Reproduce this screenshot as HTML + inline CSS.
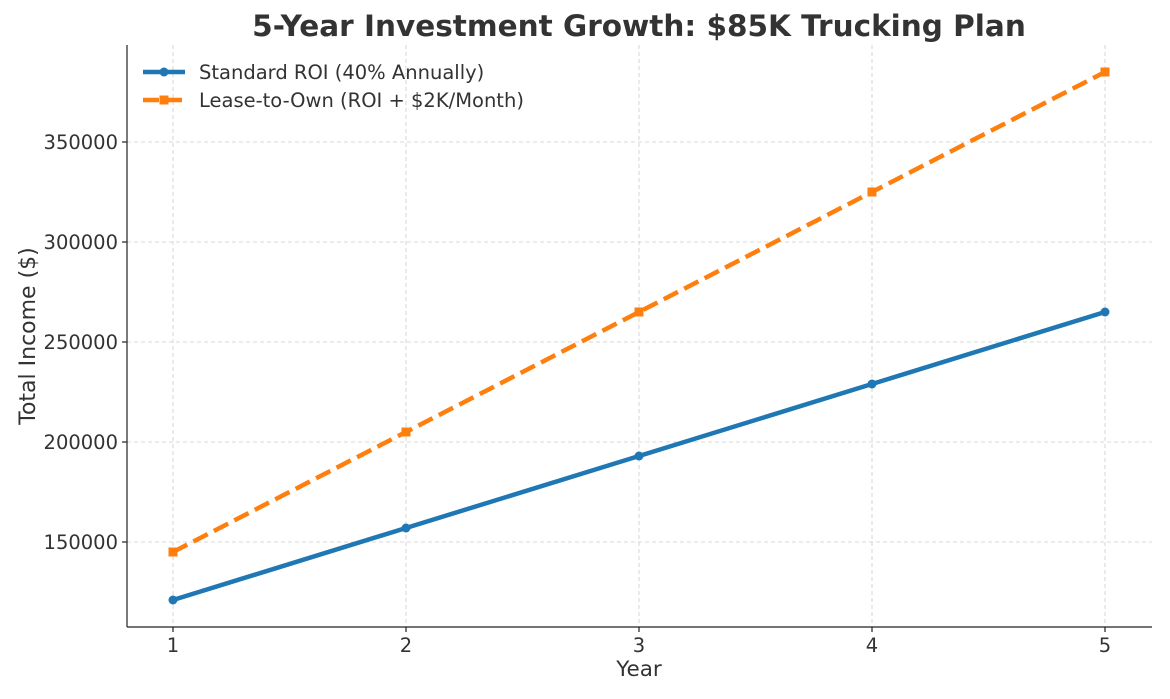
<!DOCTYPE html>
<html><head><meta charset="utf-8"><style>body{margin:0;background:#fff}</style></head><body>
<svg width="1170" height="694" xmlns="http://www.w3.org/2000/svg" font-family="'DejaVu Sans','Liberation Sans',sans-serif">
<rect width="1170" height="694" fill="#fff"/>
<g stroke="#cccccc" stroke-width="0.8" stroke-dasharray="4,3">
<line x1="173" y1="45" x2="173" y2="627"/><line x1="406" y1="45" x2="406" y2="627"/><line x1="639" y1="45" x2="639" y2="627"/><line x1="872" y1="45" x2="872" y2="627"/><line x1="1105" y1="45" x2="1105" y2="627"/>
<line x1="127" y1="142" x2="1152" y2="142"/><line x1="127" y1="242" x2="1152" y2="242"/><line x1="127" y1="342" x2="1152" y2="342"/><line x1="127" y1="442" x2="1152" y2="442"/><line x1="127" y1="542" x2="1152" y2="542"/>
</g>
<g stroke="#222" stroke-width="1.2"><line x1="127" y1="45" x2="127" y2="627"/><line x1="127" y1="627" x2="1152" y2="627"/>
<line x1="173" y1="627" x2="173" y2="632"/><line x1="406" y1="627" x2="406" y2="632"/><line x1="639" y1="627" x2="639" y2="632"/><line x1="872" y1="627" x2="872" y2="632"/><line x1="1105" y1="627" x2="1105" y2="632"/>
<line x1="122" y1="142" x2="127" y2="142"/><line x1="122" y1="242" x2="127" y2="242"/><line x1="122" y1="342" x2="127" y2="342"/><line x1="122" y1="442" x2="127" y2="442"/><line x1="122" y1="542" x2="127" y2="542"/></g>
<g font-size="19.5" fill="#333" text-anchor="middle"><text x="173" y="652">1</text><text x="406" y="652">2</text><text x="639" y="652">3</text><text x="872" y="652">4</text><text x="1105" y="652">5</text></g>
<g font-size="19.5" fill="#333" text-anchor="end"><text x="118" y="149">350000</text><text x="118" y="249">300000</text><text x="118" y="349">250000</text><text x="118" y="449">200000</text><text x="118" y="549">150000</text></g>
<text x="639" y="676" font-size="21.5" fill="#333" text-anchor="middle">Year</text>
<text transform="translate(35,336) rotate(-90)" font-size="22" fill="#333" text-anchor="middle">Total Income ($)</text>
<text x="639" y="36" font-size="29.5" font-weight="bold" fill="#333" text-anchor="middle">5-Year Investment Growth: $85K Trucking Plan</text>
<polyline points="173,600 406,528 639,456 872,384 1105,312" fill="none" stroke="#1f77b4" stroke-width="4.5"/>
<g fill="#1f77b4"><circle cx="173" cy="600" r="4.5"/><circle cx="406" cy="528" r="4.5"/><circle cx="639" cy="456" r="4.5"/><circle cx="872" cy="384" r="4.5"/><circle cx="1105" cy="312" r="4.5"/></g>
<polyline points="173,552 406,432 639,312 872,192 1105,72" fill="none" stroke="#ff7f0e" stroke-width="4.5" stroke-dasharray="16,7"/>
<g fill="#ff7f0e"><rect x="168.5" y="547.5" width="9" height="9"/><rect x="401.5" y="427.5" width="9" height="9"/><rect x="634.5" y="307.5" width="9" height="9"/><rect x="867.5" y="187.5" width="9" height="9"/><rect x="1100.5" y="67.5" width="9" height="9"/></g>
<line x1="143" y1="72" x2="185" y2="72" stroke="#1f77b4" stroke-width="4.5"/><circle cx="164" cy="72" r="4.5" fill="#1f77b4"/>
<line x1="143" y1="100" x2="185" y2="100" stroke="#ff7f0e" stroke-width="4.5" stroke-dasharray="16,7"/><rect x="159.5" y="95.5" width="9" height="9" fill="#ff7f0e"/>
<g font-size="19.5" fill="#333"><text x="199" y="79">Standard ROI (40% Annually)</text><text x="199" y="107">Lease-to-Own (ROI + $2K/Month)</text></g>
</svg>
</body></html>
